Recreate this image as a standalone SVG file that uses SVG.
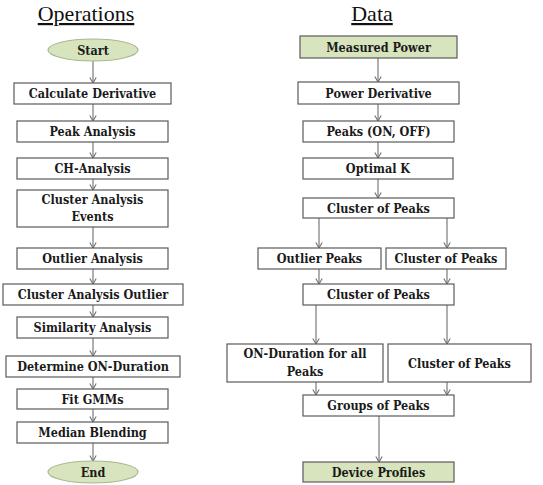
<svg xmlns="http://www.w3.org/2000/svg" width="543" height="485" viewBox="0 0 543 485">
<style>
.b{fill:#fff;stroke:#5a5a5a;stroke-width:1.2}
.g{fill:#d7e4bd;stroke:#5a5a5a;stroke-width:1.2}
.e{fill:#d7e4bd;stroke:#a8b890;stroke-width:1.2}
.t{font-family:"DejaVu Serif Condensed","DejaVu Serif",serif;font-weight:bold;font-stretch:condensed;font-size:12.5px;fill:#1a1a1a;text-anchor:middle}
.h{font-family:"Liberation Serif",serif;font-size:22px;fill:#111;text-anchor:middle;text-decoration:underline}
.c line{stroke:#6e6e6e;stroke-width:1.1;marker-end:url(#ar)}
</style>
<defs>
<marker id="ar" markerUnits="userSpaceOnUse" markerWidth="8" markerHeight="9" refX="6.5" refY="4" orient="auto" viewBox="0 0 8 8">
<polyline points="1,0.8 6.5,4 1,7.2" fill="none" stroke="#6e6e6e" stroke-width="1.1"/>
</marker>
</defs>
<text class="h" x="86" y="21">Operations</text>
<text class="h" x="372" y="21">Data</text>
<g class="c">
<line x1="93" y1="61" x2="93" y2="83"/>
<line x1="93" y1="104" x2="93" y2="121"/>
<line x1="93" y1="142" x2="93" y2="158"/>
<line x1="93" y1="179" x2="93" y2="190"/>
<line x1="93" y1="227" x2="93" y2="248"/>
<line x1="93" y1="269" x2="93" y2="284"/>
<line x1="93" y1="305" x2="93" y2="317"/>
<line x1="93" y1="338" x2="93" y2="356"/>
<line x1="93" y1="377" x2="93" y2="389"/>
<line x1="93" y1="409" x2="93" y2="422"/>
<line x1="93" y1="443" x2="93" y2="461"/>
<line x1="378" y1="58" x2="378" y2="82"/>
<line x1="378" y1="104" x2="378" y2="121"/>
<line x1="378" y1="142" x2="378" y2="158"/>
<line x1="378" y1="179" x2="378" y2="198"/>
<line x1="319" y1="218" x2="319" y2="248"/>
<line x1="447" y1="218" x2="447" y2="248"/>
<line x1="319" y1="269" x2="319" y2="284"/>
<line x1="447" y1="269" x2="447" y2="284"/>
<line x1="316" y1="305" x2="316" y2="344"/>
<line x1="447" y1="305" x2="447" y2="344"/>
<line x1="316" y1="382" x2="316" y2="395"/>
<line x1="447" y1="382" x2="447" y2="395"/>
<line x1="379" y1="416" x2="379" y2="462"/>
</g>
<g id="start"><ellipse class="e" cx="93" cy="50" rx="45" ry="11"/><text class="t" x="93" y="54.5">Start</text></g>
<g id="calc"><rect class="b" x="14" y="83" width="157" height="21"/><text class="t" x="92.5" y="98">Calculate Derivative</text></g>
<g id="peak"><rect class="b" x="17" y="121" width="151" height="21"/><text class="t" x="92.5" y="136">Peak Analysis</text></g>
<g id="ch"><rect class="b" x="17" y="158" width="151" height="21"/><text class="t" x="92.5" y="173">CH-Analysis</text></g>
<g id="cae"><rect class="b" x="17" y="190" width="151" height="37"/><text class="t" x="92.5" y="204">Cluster Analysis</text><text class="t" x="92.5" y="221">Events</text></g>
<g id="outl"><rect class="b" x="17" y="248" width="151" height="21"/><text class="t" x="92.5" y="263">Outlier Analysis</text></g>
<g id="cao"><rect class="b" x="3" y="284" width="180" height="21"/><text class="t" x="93" y="299">Cluster Analysis Outlier</text></g>
<g id="sim"><rect class="b" x="17" y="317" width="151" height="21"/><text class="t" x="92.5" y="332">Similarity Analysis</text></g>
<g id="det"><rect class="b" x="6" y="356" width="174" height="21"/><text class="t" x="93" y="371">Determine ON-Duration</text></g>
<g id="fit"><rect class="b" x="17" y="389" width="151" height="20"/><text class="t" x="92.5" y="403.5">Fit GMMs</text></g>
<g id="med"><rect class="b" x="17" y="422" width="151" height="21"/><text class="t" x="92.5" y="437">Median Blending</text></g>
<g id="end"><ellipse class="e" cx="93" cy="472" rx="45" ry="11"/><text class="t" x="93" y="476.5">End</text></g>
<g id="mp"><rect class="g" x="300" y="36" width="157" height="22"/><text class="t" x="378.5" y="51.5">Measured Power</text></g>
<g id="pd"><rect class="b" x="298" y="82" width="161" height="22"/><text class="t" x="378.5" y="97.5">Power Derivative</text></g>
<g id="pk"><rect class="b" x="303" y="121" width="151" height="21"/><text class="t" x="378.5" y="136">Peaks (ON, OFF)</text></g>
<g id="ok"><rect class="b" x="303" y="158" width="150" height="21"/><text class="t" x="378" y="173">Optimal K</text></g>
<g id="cp1"><rect class="b" x="303" y="198" width="151" height="20"/><text class="t" x="378.5" y="212.5">Cluster of Peaks</text></g>
<g id="op"><rect class="b" x="258" y="248" width="123" height="21"/><text class="t" x="319.5" y="263">Outlier Peaks</text></g>
<g id="cp2"><rect class="b" x="386" y="248" width="120" height="21"/><text class="t" x="446" y="263">Cluster of Peaks</text></g>
<g id="cp3"><rect class="b" x="303" y="284" width="151" height="21"/><text class="t" x="378.5" y="299">Cluster of Peaks</text></g>
<g id="ond"><rect class="b" x="227" y="344" width="156" height="38"/><text class="t" x="305" y="358">ON-Duration for all</text><text class="t" x="305" y="376">Peaks</text></g>
<g id="cp4"><rect class="b" x="388" y="344" width="143" height="38"/><text class="t" x="459.5" y="367.5">Cluster of Peaks</text></g>
<g id="gp"><rect class="b" x="303" y="395" width="151" height="21"/><text class="t" x="378.5" y="410">Groups of Peaks</text></g>
<g id="dp"><rect class="g" x="303" y="462" width="151" height="20"/><text class="t" x="378.5" y="476.5">Device Profiles</text></g>
</svg>
